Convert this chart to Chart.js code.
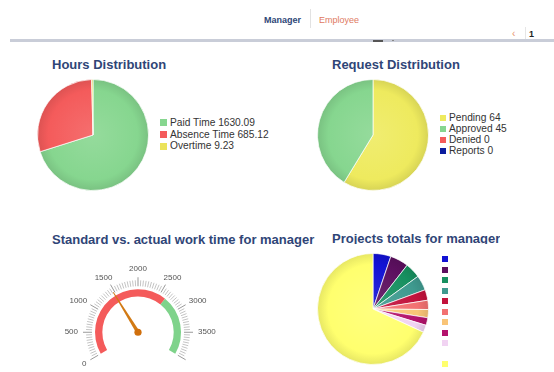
<!DOCTYPE html>
<html>
<head>
<meta charset="utf-8">
<script src="https://cdn.jsdelivr.net/npm/chart.js@4/dist/chart.umd.min.js"></script>
<style>
  body { margin: 0; background: #fff; font-family: "Liberation Sans", Arial, sans-serif; }
  #page { position: relative; width: 554px; height: 372px; overflow: hidden; }
  .abs { position: absolute; }
  .title { position: absolute; font-size: 13px; font-weight: bold; color: #2f4577; line-height: 15px; white-space: nowrap; }
  .legend { position: absolute; font-size: 10.2px; color: #333; white-space: nowrap; }
  .legend .row { display: flex; align-items: center; }
  .legend .sq { display: inline-block; margin-right: 3px; }
  canvas { position: absolute; }
</style>
</head>
<body>
<div id="page">
  <div class="abs" style="left:264px;top:14px;font-size:9px;line-height:12px;font-weight:bold;color:#2e4677;">Manager</div>
  <div class="abs" style="left:310px;top:9px;width:1px;height:19px;background:#e2e2e2;"></div>
  <div class="abs" style="left:319px;top:14px;font-size:9px;line-height:12px;color:#e07a5f;">Employee</div>
  <div class="abs" style="left:512px;top:28px;font-size:10px;line-height:12px;color:#e8906a;">&lsaquo;</div>
  <div class="abs" style="left:525px;top:27px;width:1px;height:14px;background:#e6e6e6;"></div>
  <div class="abs" style="left:529px;top:28px;font-size:9px;line-height:12px;font-weight:bold;color:#222;">1</div>
  <div class="abs" style="left:10px;top:39px;width:544px;height:3px;background:#c9cdd8;"></div>
  <div class="abs" style="left:373px;top:40px;width:10px;height:1.5px;background:#555;"></div>
  <div class="abs" style="left:392px;top:40px;width:2px;height:1px;background:#888;"></div>

  <div class="title" style="left:52px;top:57px;">Hours Distribution</div>
  <div class="title" style="left:332px;top:57px;">Request Distribution</div>
  <div class="title" style="left:52px;top:232px;">Standard vs. actual work time for manager</div>
  <div class="title" style="left:332px;top:231px;height:13px;overflow:hidden;">Projects totals for manager</div>

  <canvas id="hoursChart" width="112" height="112" style="left:37px;top:79px;"></canvas>
  <div class="legend" id="hoursLegend" style="left:160px;top:117px;line-height:11.7px;"></div>

  <canvas id="requestChart" width="112" height="112" style="left:317px;top:79px;"></canvas>
  <div class="legend" id="requestLegend" style="left:440px;top:112px;line-height:11.1px;"></div>

  <canvas id="gaugeChart" width="186" height="122" style="left:50px;top:250px;"></canvas>

  <canvas id="projectChart" width="112" height="112" style="left:317px;top:253px;"></canvas>
  <div class="legend" id="projectLegend" style="left:442px;top:254px;line-height:10.5px;"></div>
</div>

<script>
// Hours distribution
const hoursLabels = ['Paid Time', 'Absence Time', 'Overtime'];
const hoursValues = [1630.09, 685.12, 9.23];
const hoursColors = ['#86d68f', '#f45b5b', '#ebe35a'];

// Request distribution
const requestLabels = ['Pending', 'Approved', 'Denied', 'Reports'];
const requestValues = [64, 45, 0, 0];
const requestColors = ['#eeea5e', '#86d68f', '#f45b5b', '#0b1c9e'];

// Standard vs actual gauge
const gaugeMax = 4000;
const gaugeBands = [2650, 1350];
const gaugeBandColors = ['#f45b5b', '#7fd38b'];
const gaugeTickLabels = [0, 500, 1000, 1500, 2000, 2500, 3000, 3500];
const gaugeMinorStep = 50;
const gaugeActual = 1470;

// Project totals (labels are blank in the source)
const projectLabels = ['', '', '', '', '', '', '', '', '', '', ''];
const projectValues = [120, 123, 103, 101, 71, 62, 55, 51, 49, 0, 1571];
const projectColors = ['#1212d4', '#5c0f5f', '#179060', '#3f9a8f', '#c2123c', '#f27171',
                       '#f9c477', '#b3136c', '#f1d3f2', '#ffffff', '#ffff6e'];

function shade(hex, f) {
    const n = parseInt(hex.slice(1), 16);
    let r = n >> 16, g = (n >> 8) & 255, b = n & 255;
    const t = f < 0 ? 0 : 255, p = Math.abs(f);
    r = Math.round(r + (t - r) * p);
    g = Math.round(g + (t - g) * p);
    b = Math.round(b + (t - b) * p);
    return 'rgb(' + r + ',' + g + ',' + b + ')';
}

// highcharts-ish radial shading
function radialFill(colors) {
    return function (c) {
        const color = colors[c.dataIndex];
        const a = c.chart.chartArea;
        if (!a) return color;
        const cx = (a.left + a.right) / 2, cy = (a.top + a.bottom) / 2;
        const r = Math.min(a.width, a.height) / 2;
        const g = c.chart.ctx.createRadialGradient(cx, cy, 0, cx, cy, r);
        g.addColorStop(0, shade(color, 0.12));
        g.addColorStop(0.8, color);
        g.addColorStop(1, shade(color, -0.1));
        return g;
    };
}

function pieChart(id, labels, values, colors) {
    return new Chart(document.getElementById(id), {
        type: 'pie',
        data: {
            labels: labels,
            datasets: [{
                data: values,
                backgroundColor: radialFill(colors),
                borderColor: 'rgba(255,255,255,0.7)',
                borderWidth: 1
            }]
        },
        options: {
            responsive: false,
            animation: false,
            events: [],
            plugins: { legend: { display: false }, tooltip: { enabled: false } }
        }
    });
}

function buildLegend(id, labels, values, colors, size, showValues) {
    const box = document.getElementById(id);
    labels.forEach(function (lab, i) {
        const row = document.createElement('div');
        row.className = 'row';
        const sq = document.createElement('span');
        sq.className = 'sq';
        sq.style.width = size + 'px';
        sq.style.height = size + 'px';
        sq.style.background = colors[i];
        row.appendChild(sq);
        const txt = document.createElement('span');
        txt.textContent = showValues ? lab + ' ' + values[i] : lab;
        row.appendChild(txt);
        if (!showValues) row.style.height = box.style.lineHeight;
        box.appendChild(row);
    });
}

pieChart('hoursChart', hoursLabels, hoursValues, hoursColors);
buildLegend('hoursLegend', hoursLabels, hoursValues.map(v => v.toFixed(2)), hoursColors, 7, true);

pieChart('requestChart', requestLabels, requestValues, requestColors);
buildLegend('requestLegend', requestLabels, requestValues, requestColors, 6, true);

pieChart('projectChart', projectLabels, projectValues, projectColors);
buildLegend('projectLegend', projectLabels, projectValues, projectColors, 6, false);

// gauge: ticks, labels and needle drawn around the doughnut arc
const gaugeDecor = {
    id: 'gaugeDecor',
    afterDatasetsDraw(chart) {
        const arc = chart.getDatasetMeta(0).data[0];
        const cx = arc.x, cy = arc.y;
        const ctx = chart.ctx;
        const ang = v => (-120 + v / gaugeMax * 240 - 90) * Math.PI / 180;

        ctx.save();
        for (let v = 0; v <= gaugeMax; v += gaugeMinorStep) {
            const a = ang(v);
            const major = v % 500 === 0;
            const r1 = 46, r2 = major ? 55 : 52;
            ctx.beginPath();
            ctx.moveTo(cx + r1 * Math.cos(a), cy + r1 * Math.sin(a));
            ctx.lineTo(cx + r2 * Math.cos(a), cy + r2 * Math.sin(a));
            ctx.strokeStyle = major ? '#999' : '#c4c4c4';
            ctx.lineWidth = 1;
            ctx.stroke();
        }

        ctx.font = '8px "Liberation Sans", Arial, sans-serif';
        ctx.fillStyle = '#555';
        ctx.textAlign = 'center';
        ctx.textBaseline = 'middle';
        gaugeTickLabels.forEach(function (v) {
            const a = ang(v);
            const w = ctx.measureText(String(v)).width;
            const x = cx + 59 * Math.cos(a) + (w / 2 + 1) * Math.cos(a);
            const y = cy + 59 * Math.sin(a) + 4 * Math.sin(a);
            ctx.fillText(String(v), x, y);
        });

        // needle
        const a = ang(gaugeActual);
        const px = Math.cos(a + Math.PI / 2), py = Math.sin(a + Math.PI / 2);
        const tip = 47;
        ctx.beginPath();
        ctx.moveTo(cx + px * 1.8, cy + py * 1.8);
        ctx.lineTo(cx + tip * Math.cos(a) + px * 0.4, cy + tip * Math.sin(a) + py * 0.4);
        ctx.lineTo(cx + tip * Math.cos(a) - px * 0.4, cy + tip * Math.sin(a) - py * 0.4);
        ctx.lineTo(cx - px * 1.8, cy - py * 1.8);
        ctx.closePath();
        ctx.fillStyle = '#d27a14';
        ctx.fill();
        ctx.beginPath();
        ctx.arc(cx, cy, 3.6, 0, Math.PI * 2);
        ctx.fillStyle = '#d06f0c';
        ctx.fill();
        ctx.restore();
    }
};

new Chart(document.getElementById('gaugeChart'), {
    type: 'doughnut',
    data: {
        labels: ['Standard', 'Remaining'],
        datasets: [{
            data: gaugeBands,
            backgroundColor: gaugeBandColors,
            borderWidth: 0
        }]
    },
    options: {
        responsive: false,
        animation: false,
        events: [],
        rotation: -120,
        circumference: 240,
        cutout: '83%',
        layout: { padding: { left: 45, right: 55, top: 39, bottom: 18 } },
        plugins: { legend: { display: false }, tooltip: { enabled: false } }
    },
    plugins: [gaugeDecor]
});
</script>
</body>
</html>
